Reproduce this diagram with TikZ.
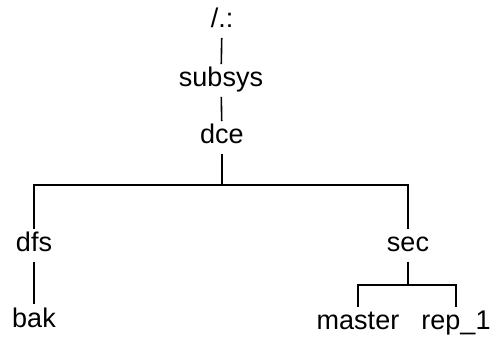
\documentclass[tikz,border=0pt]{standalone}
\usepackage{fontspec}
\setmainfont{Liberation Sans}
\usepackage{tikz}
\newcommand{\dirnode}[3] {\node at (#1) (#2) [anchor=base, inner xsep=0pt, inner ysep=3pt, text height=19pt, text depth=6pt] {#3};}
\newcommand{\dirlink}[2] {\draw (#1) -- (#2);}
\newcommand{\dirbranch}[2] {\draw (#1) -| (#2);}

\begin{document}
\begin{tikzpicture}[x=1pt, y=-1pt, line width=1.6pt, font=\fontsize{27}{32}\selectfont]
\useasboundingbox (0,0) rectangle (490,347);

\dirnode {222,28}{root}{/.:};
\dirnode {221,87}{subsys}{subsys};
\dirnode {222,144}{dce}{dce};
\dirnode {34,252}{dfs}{dfs};
\dirnode {34,327}{bak}{bak};
\dirnode {408,252}{sec}{sec};
\dirnode {358,330}{master}{master};
\dirnode {456,330}{rep1}{rep\_1};
\coordinate (dcefork) at (222,185);
\coordinate (secfork) at (408,285);

\dirlink{root}{subsys};
\dirlink{subsys}{dce};
\dirlink{dce}{dcefork};
\dirbranch{dcefork}{dfs};
\dirbranch{dcefork}{sec};
\dirlink{dfs}{bak};
\dirlink{sec}{secfork};
\dirbranch{secfork}{master};
\dirbranch{secfork}{rep1};
\end{tikzpicture}
\end{document}
